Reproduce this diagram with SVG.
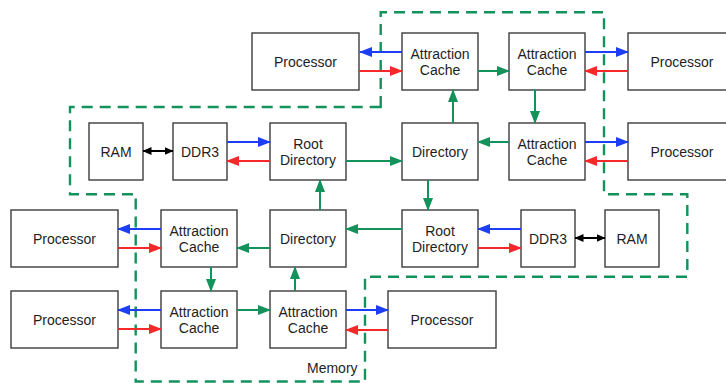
<svg xmlns="http://www.w3.org/2000/svg" width="726" height="383" viewBox="0 0 726 383">
<style>
.box{fill:#fff;stroke:#3c3c3c;stroke-width:1.4}
.t{font-family:"Liberation Sans",Arial,sans-serif;font-size:14px;fill:#1e1e1e;text-anchor:middle}
.b{stroke:#1e3ef5;stroke-width:2;fill:none;marker-end:url(#mb)}
.r{stroke:#f5282a;stroke-width:2;fill:none;marker-end:url(#mr)}
.g{stroke:#13925c;stroke-width:2;fill:none;marker-end:url(#mg)}
.k{stroke:#000;stroke-width:2;fill:none;marker-start:url(#mk);marker-end:url(#mk)}
</style>
<defs>
<marker id="mb" markerUnits="userSpaceOnUse" markerWidth="13" markerHeight="10" refX="12" refY="5" orient="auto"><path d="M0,0L13,5L0,10z" fill="#1e3ef5"/></marker>
<marker id="mr" markerUnits="userSpaceOnUse" markerWidth="13" markerHeight="10" refX="12" refY="5" orient="auto"><path d="M0,0L13,5L0,10z" fill="#f5282a"/></marker>
<marker id="mg" markerUnits="userSpaceOnUse" markerWidth="13" markerHeight="10" refX="12" refY="5" orient="auto"><path d="M0,0L13,5L0,10z" fill="#13925c"/></marker>
<marker id="mk" markerUnits="userSpaceOnUse" markerWidth="9" markerHeight="8" refX="8.5" refY="4" orient="auto-start-reverse"><path d="M0,0L9,4L0,8z" fill="#000"/></marker>
</defs>
<g id="memory-boundary">
<path d="M380.7,107 L380.7,12.3 L604,12.3 L604,194.3 L687.3,194.3 L687.3,276.7 L365,276.7 L365,381.5 L135.7,381.5 L135.7,194.3 L70,194.3 L70,107 Z" fill="none" stroke="#13925c" stroke-width="2.4" stroke-dasharray="11 7"/>
<text class="t" x="307" y="373" style="text-anchor:start">Memory</text>
</g>
<g id="p1"><rect class="box" x="252" y="33" width="107" height="57"/><text class="t" x="305.5" y="66.5">Processor</text></g>
<g id="ac1"><rect class="box" x="402" y="33" width="76" height="57"/><text class="t" x="440" y="58.5">Attraction</text><text class="t" x="440" y="74.5">Cache</text></g>
<g id="ac2"><rect class="box" x="509" y="33" width="76" height="57"/><text class="t" x="547" y="58.5">Attraction</text><text class="t" x="547" y="74.5">Cache</text></g>
<g id="p2"><rect class="box" x="628" y="33" width="108" height="57"/><text class="t" x="682" y="66.5">Processor</text></g>
<g id="ram1"><rect class="box" x="89" y="123" width="54" height="57"/><text class="t" x="116" y="156.5">RAM</text></g>
<g id="ddr1"><rect class="box" x="173" y="123" width="54" height="57"/><text class="t" x="200" y="156.5">DDR3</text></g>
<g id="rd1"><rect class="box" x="270" y="123" width="76" height="57"/><text class="t" x="308" y="148.5">Root</text><text class="t" x="308" y="164.5">Directory</text></g>
<g id="dir1"><rect class="box" x="402" y="123" width="76" height="57"/><text class="t" x="440" y="156.5">Directory</text></g>
<g id="ac3"><rect class="box" x="509" y="123" width="76" height="57"/><text class="t" x="547" y="148.5">Attraction</text><text class="t" x="547" y="164.5">Cache</text></g>
<g id="p3"><rect class="box" x="628" y="123" width="108" height="57"/><text class="t" x="682" y="156.5">Processor</text></g>
<g id="p4"><rect class="box" x="11" y="210" width="107" height="57"/><text class="t" x="64.5" y="243.5">Processor</text></g>
<g id="ac4"><rect class="box" x="161" y="210" width="76" height="57"/><text class="t" x="199" y="235.5">Attraction</text><text class="t" x="199" y="251.5">Cache</text></g>
<g id="dir2"><rect class="box" x="270" y="210" width="76" height="57"/><text class="t" x="308" y="243.5">Directory</text></g>
<g id="rd2"><rect class="box" x="402" y="210" width="76" height="57"/><text class="t" x="440" y="235.5">Root</text><text class="t" x="440" y="251.5">Directory</text></g>
<g id="ddr2"><rect class="box" x="521" y="210" width="54" height="57"/><text class="t" x="548" y="243.5">DDR3</text></g>
<g id="ram2"><rect class="box" x="605" y="210" width="54" height="57"/><text class="t" x="632" y="243.5">RAM</text></g>
<g id="p5"><rect class="box" x="11" y="291" width="107" height="57"/><text class="t" x="64.5" y="324.5">Processor</text></g>
<g id="ac5"><rect class="box" x="161" y="291" width="76" height="57"/><text class="t" x="199" y="316.5">Attraction</text><text class="t" x="199" y="332.5">Cache</text></g>
<g id="ac6"><rect class="box" x="270" y="291" width="76" height="57"/><text class="t" x="308" y="316.5">Attraction</text><text class="t" x="308" y="332.5">Cache</text></g>
<g id="p6"><rect class="box" x="388" y="291" width="108" height="57"/><text class="t" x="442" y="324.5">Processor</text></g>
<g id="connectors">
<path class="b" d="M402,52L360,52"/>
<path class="b" d="M585,52L628,52"/>
<path class="b" d="M227,142L270,142"/>
<path class="b" d="M585,142L628,142"/>
<path class="b" d="M521,229L478,229"/>
<path class="b" d="M161,229L118,229"/>
<path class="b" d="M161,310L118,310"/>
<path class="b" d="M346,310L388,310"/>
<path class="r" d="M359,71L402,71"/>
<path class="r" d="M628,71L585,71"/>
<path class="r" d="M270,161L227,161"/>
<path class="r" d="M628,161L585,161"/>
<path class="r" d="M478,248L521,248"/>
<path class="r" d="M118,248L161,248"/>
<path class="r" d="M118,329L161,329"/>
<path class="r" d="M388,330L346,330"/>
<path class="g" d="M478,71L509,71"/>
<path class="g" d="M453,123L453,90"/>
<path class="g" d="M535,90L535,123"/>
<path class="g" d="M509,142L478,142"/>
<path class="g" d="M346,161L402,161"/>
<path class="g" d="M428,180L428,210"/>
<path class="g" d="M402,229L346,229"/>
<path class="g" d="M320,210L320,180"/>
<path class="g" d="M270,248L237,248"/>
<path class="g" d="M211,267L211,291"/>
<path class="g" d="M237,310L270,310"/>
<path class="g" d="M295,291L295,267"/>
<path class="k" d="M143,151L173,151"/>
<path class="k" d="M575,238L605,238"/>
</g>
</svg>
